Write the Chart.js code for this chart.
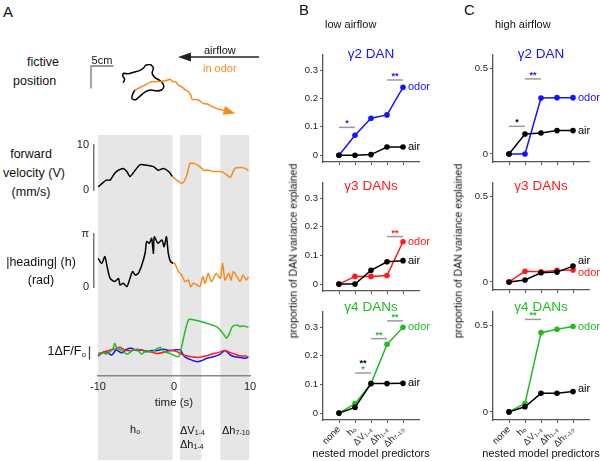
<!DOCTYPE html>
<html lang="en">
  <head>
    <meta charset="UTF-8" />
    <title>DAN activity and behaviour</title>
    <script src="https://cdn.jsdelivr.net/npm/chart.js"></script>
    <style>
      body { margin: 0; background: #fff; }
      #fig {
        position: relative; width: 600px; height: 461px; overflow: hidden;
        font-family: "Liberation Sans", Arial, sans-serif; color: #111;
      }
      #fig canvas { position: absolute; }
      .t { position: absolute; white-space: nowrap; line-height: 1; }
      .c { transform: translate(-50%, -50%); }
      .l { transform: translateY(-50%); }
      .r { transform: translate(-100%, -50%); }
      .big { font-size: 15px; }
      .lab { font-size: 12.5px; }
      .sm { font-size: 11px; }
      .ttl { font-size: 13.5px; }
      .yl { font-size: 10.5px; transform: translate(-50%, -50%) rotate(-90deg); }
      sub { font-size: 65%; vertical-align: -0.25em; }
    </style>
  </head>
  <body>
    <div id="fig">
      <canvas id="shade"></canvas>
      <canvas id="traj"></canvas>
      <canvas id="vel"></canvas>
      <canvas id="head"></canvas>
      <canvas id="dff"></canvas>
      <canvas id="lowG2"></canvas>
      <canvas id="lowG3"></canvas>
      <canvas id="lowG4"></canvas>
      <canvas id="highG2"></canvas>
      <canvas id="highG3"></canvas>
      <canvas id="highG4"></canvas>

      <!-- panel A labels -->
      <div class="t l big" style="left:3px; top:11px">A</div>
      <div class="t l lab" style="left:27px; top:62px">fictive</div>
      <div class="t l lab" style="left:13px; top:81px">position</div>
      <div class="t c sm" style="left:102px; top:60px">5cm</div>
      <div class="t l sm" style="left:204px; top:50px">airflow</div>
      <div class="t l sm" style="left:203px; top:68px; color:#f68b1f">in odor</div>
      <svg style="position:absolute; left:0; top:0" width="300" height="120">
        <line x1="188" y1="57" x2="259" y2="57" stroke="#222" stroke-width="1.5" />
        <polygon points="178,57 191,52.5 191,61.5" fill="#222" />
      </svg>
      <div class="t c lab" style="left:31px; top:154px">forward</div>
      <div class="t c lab" style="left:34px; top:173px">velocity (V)</div>
      <div class="t c lab" style="left:31px; top:192px">(mm/s)</div>
      <div class="t c lab" style="left:41px; top:262px">|heading| (h)</div>
      <div class="t c lab" style="left:41px; top:280px">(rad)</div>
      <div class="t r lab" style="left:86px; top:352px">1ΔF/F<sub>o</sub></div>
      <div class="t l sm" style="left:130px; top:430px">h<sub>o</sub></div>
      <div class="t l sm" style="left:180px; top:431px">ΔV<sub>1-4</sub></div>
      <div class="t l sm" style="left:180px; top:445px">Δh<sub>1-4</sub></div>
      <div class="t l sm" style="left:222px; top:431px">Δh<sub>7-10</sub></div>

      <!-- panel B labels -->
      <div class="t l big" style="left:299px; top:9px">B</div>
      <div class="t l sm" style="left:325px; top:24px">low airflow</div>
      <div class="t c ttl" style="left:371px; top:54px; color:#1414ff">γ2 DAN</div>
      <div class="t c ttl" style="left:371px; top:186px; color:#ff1a1a">γ3 DANs</div>
      <div class="t c ttl" style="left:371px; top:307px; color:#22bb22">γ4 DANs</div>
      <div class="t yl" style="left:293px; top:251px">proportion of DAN variance explained</div>
      <div class="t c sm" style="left:371px; top:453px">nested model predictors</div>

      <!-- panel C labels -->
      <div class="t l big" style="left:464px; top:9px">C</div>
      <div class="t l sm" style="left:495px; top:24px">high airflow</div>
      <div class="t c ttl" style="left:541px; top:54px; color:#1414ff">γ2 DAN</div>
      <div class="t c ttl" style="left:541px; top:186px; color:#ff1a1a">γ3 DANs</div>
      <div class="t c ttl" style="left:541px; top:307px; color:#22bb22">γ4 DANs</div>
      <div class="t yl" style="left:458px; top:251px">proportion of DAN variance explained</div>
      <div class="t c sm" style="left:541px; top:453px">nested model predictors</div>
    </div>

    <script>
      // ---- data ----
      // fictive position (cm), before odor and in odor
      const posAirX = [-2.6, -2.3, -2.7, -2.6, -1.5, -0.4, 1.0, 1.9, 2.4, 3.5, 4.1, 3.8, 4.5, 5.4, 6.1, 6.4, 5.9, 4.8, 3.5, 2.3, 1.3, 0.1, -0.7, -0.5, 0];
      const posAirY = [1.6, 2.4, 3.1, 3.7, 3.6, 3.9, 4.3, 4.9, 5.5, 5.6, 4.9, 3.7, 2.7, 2.2, 1.6, 0.7, 0, -0.2, 0, -0.4, -1.2, -2.2, -1.9, -0.9, 0];
      const posOdorX = [0, 1.1, 2.2, 3.3, 4.4, 5.9, 7.0, 7.8, 8.4, 9.1, 9.6, 10.4, 11.1, 11.9, 12.4, 12.7, 13.6, 14.4, 15.2, 16.1, 17.0, 18.1, 19.3, 20.4];
      const posOdorY = [0, 0.5, 1.1, 1.7, 1.9, 1.9, 2.1, 2.4, 1.9, 1.8, 1.1, 0.7, 0.1, -0.4, -1.1, -2.1, -2.1, -2.4, -3.0, -3.1, -3.6, -4.1, -4.4, -4.7];
      const scaleBarCm = 5;

      // forward velocity (mm/s)
      const velAirT = [-9.98, -8.9, -8.4, -7.8, -7.3, -6.7, -6.2, -5.8, -5.4, -4.5, -3.6, -2.7, -2.1, -1.4, -0.7, -0.2];
      const velAir = [0.7, 2.2, 2.2, 3.7, 4.4, 4.8, 4.1, 3.0, 3.7, 5.6, 5.5, 5.2, 4.4, 4.8, 4.1, 3.0];
      const velOdorT = [-0.2, 0.35, 1.1, 1.7, 2.1, 2.8, 3.4, 3.9, 4.5, 5.2, 6.1, 6.7, 7.4, 8.0, 8.7, 9.4, 9.8];
      const velOdor = [3.0, 2.2, 1.5, 3.3, 5.9, 5.8, 5.2, 4.4, 4.4, 4.1, 4.1, 3.7, 2.8, 4.8, 5.0, 4.8, 4.3];

      // |heading| (rad)
      const headAirT = [-9.98, -9.5, -9.1, -8.8, -8.4, -7.8, -7.3, -7.1, -6.7, -6.2, -5.8, -5.45, -5.1, -4.7, -4.3, -3.8, -3.6, -3.25, -2.95, -2.7, -2.6, -2.1, -1.6, -1.3, -1.0, -0.75, -0.45, -0.1];
      const headAir = [1.70, 1.40, 1.80, 1.21, 0.51, 0.32, 0.51, 0.12, 0.22, 0.02, 0.51, 0.91, 0.71, 0.81, 1.21, 2.0, 2.69, 2.59, 2.88, 2.0, 2.98, 2.59, 2.79, 2.39, 2.98, 2.0, 1.50, 1.40];
      const headOdorT = [-0.1, 0.1, 0.6, 1.0, 1.45, 1.9, 2.2, 2.55, 3.0, 3.4, 3.8, 4.1, 4.5, 4.9, 5.3, 5.6, 6.1, 6.4, 6.7, 7.2, 7.5, 7.8, 8.3, 8.7, 9.1, 9.5, 9.8];
      const headOdor = [1.40, 1.40, 0.91, 0.71, 0.32, 0.41, 0, 0.22, 0.12, 0.02, 0.61, 0.22, 0.81, 0.32, 0.61, 0.81, 0.51, 1.40, 0.41, 0.81, 0.41, 0.91, 0.61, 0.32, 0.71, 0.41, 0.61];

      // dF/F of the three DAN types
      const g4T = [-9.98, -9.3, -8.9, -8.4, -8.0, -7.8, -7.5, -7.1, -6.7, -6.2, -5.8, -5.4, -4.7, -4.3, -3.6, -2.9, -2.5, -1.8, -1.4, -0.7, -0.1, 0.6, 1.0, 1.5, 1.9, 2.1, 3.0, 3.6, 4.3, 5.0, 5.6, 6.1, 6.6, 6.9, 7.3, 7.7, 8.3, 8.7, 9.1, 9.8];
      const g4 = [-0.15, 0, -0.08, 0.1, 0.35, 0.73, 0.35, 0.28, 0.1, -0.08, 0.03, 0.23, 0.18, -0.08, 0.18, 0.1, 0.23, 0.43, 0.1, 0, -0.15, -0.28, 0.48, 1.73, 2.48, 2.53, 2.43, 2.35, 2.23, 2.1, 1.98, 1.73, 1.35, 1.1, 1.48, 1.98, 2.1, 1.98, 2.03, 1.93];
      const g3T = [-9.98, -9.3, -8.4, -7.8, -7.1, -6.5, -5.6, -4.9, -4.0, -3.2, -2.3, -1.4, -0.5, 0.4, 1.2, 2.3, 3.2, 4.1, 5.0, 5.8, 6.7, 7.4, 8.3, 8.9, 9.6];
      const g3 = [-0.03, 0.03, 0.23, 0.28, 0.43, 0.23, 0.18, 0.28, 0.18, 0.1, -0.03, 0.03, 0.18, 0.1, -0.15, -0.28, -0.33, -0.23, -0.08, 0.03, 0.18, 0.03, -0.15, -0.23, -0.23];
      const g2T = [-9.98, -9.5, -8.9, -8.2, -7.6, -6.9, -6.2, -5.6, -4.9, -4.3, -3.6, -2.9, -2.3, -1.4, -0.5, 0.1, 0.8, 1.4, 2.1, 3.0, 3.6, 4.3, 5.2, 6.1, 6.7, 7.4, 8.0, 8.7, 9.4, 9.8];
      const g2 = [-0.23, 0, 0.1, -0.15, 0.23, 0, 0.28, 0.35, 0.18, 0.23, 0.1, 0.18, 0.18, 0.28, 0.18, 0.23, 0.23, -0.28, -0.48, -0.65, -0.58, -0.4, -0.28, -0.08, 0.18, -0.15, -0.28, -0.33, -0.4, -0.28];
      const dffScaleBar = 1;

      // predictor windows (s) and time ticks
      const predictorWindows = [[-10, -0.2], [0.8, 3.6], [6.1, 9.9]];
      const timeTicks = [-10, 0, 10];
      const velTicks = [0, 10];
      const headTicks = [0, Math.PI];

      // nested models: proportion of DAN variance explained
      const predictors = ["none", "hₒ", "ΔV₁₋₄", "Δh₁₋₄", "Δh₇₋₁₀"];
      const lowTicks = [0, 0.1, 0.2, 0.3];
      const highTicks = [0, 0.5];
      const lowG2Odor = [0, 0.07, 0.13, 0.142, 0.239];
      const lowG2Air = [0, 0, 0.002, 0.029, 0.029];
      const lowG3Odor = [0, 0.027, 0.027, 0.03, 0.148];
      const lowG3Air = [0, 0, 0.048, 0.078, 0.082];
      const lowG4Odor = [0, 0.033, 0.103, 0.24, 0.30];
      const lowG4Air = [0, 0.02, 0.103, 0.103, 0.104];
      const highG2Odor = [0, 0, 0.328, 0.33, 0.33];
      const highG2Air = [0, 0.117, 0.123, 0.137, 0.137];
      const highG3Odor = [0, 0.063, 0.06, 0.068, 0.07];
      const highG3Air = [0, 0.012, 0.054, 0.058, 0.093];
      const highG4Odor = [0, 0.049, 0.46, 0.48, 0.496];
      const highG4Air = [0, 0.03, 0.108, 0.108, 0.118];

      // significance: [from, to, level, [[stars, series], ...]]
      const sigLowG2 = [[0, 1, 0.098, [["*", "odor"]]], [3, 4, 0.265, [["**", "odor"]]]];
      const sigLowG3 = [[3, 4, 0.166, [["**", "odor"]]]];
      const sigLowG4 = [[1, 2, 0.14, [["**", "air"], ["*", "odor"]]], [2, 3, 0.26, [["**", "odor"]]], [3, 4, 0.322, [["**", "odor"]]]];
      const sigHighG2 = [[0, 1, 0.162, [["*", "air"]]], [1, 2, 0.44, [["**", "odor"]]]];
      const sigHighG3 = [];
      const sigHighG4 = [[1, 2, 0.537, [["**", "odor"]]]];

      // ---- drawing ----
      const FONT = '"Liberation Sans", Arial, sans-serif';
      Chart.defaults.font.family = FONT;
      Chart.defaults.color = "#222";

      const BLUE = "#1414ff", RED = "#ff1a1a", GREEN = "#22bb22", ORANGE = "#f68b1f";

      const noPad = (s) => { s.paddingTop = s.paddingBottom = s.paddingLeft = s.paddingRight = 0; };
      const fixW = (w) => (s) => { s.width = w; noPad(s); };
      const fixH = (h) => (s) => { s.height = h; noPad(s); };

      // size and place a canvas so the chart area lands on the given page box
      function place(id, area, pad) {
        const c = document.getElementById(id);
        c.width = area.r - area.l + pad.l + pad.r;
        c.height = area.b - area.t + pad.t + pad.b;
        c.style.left = area.l - pad.l + "px";
        c.style.top = area.t - pad.t + "px";
        return c;
      }

      const common = {
        responsive: false, animation: false, devicePixelRatio: 1, events: [],
      };
      const noPlugins = { legend: { display: false }, tooltip: { enabled: false } };

      function trace(ts, vs, color) {
        return {
          data: ts.map((t, i) => ({ x: t, y: vs[i] })),
          borderColor: color, borderWidth: 1.5, pointRadius: 0,
          tension: 0.25, clip: false, fill: false,
        };
      }

      // shaded predictor windows + time axis
      const shadePlugin = {
        id: "shadePlugin",
        beforeDraw(chart) {
          const { ctx, chartArea, scales } = chart;
          ctx.save();
          ctx.fillStyle = "#e6e6e6";
          predictorWindows.forEach(([a, b]) => {
            const x0 = scales.x.getPixelForValue(a), x1 = scales.x.getPixelForValue(b);
            ctx.fillRect(x0, chartArea.top, x1 - x0, chart.height - chartArea.top - 1);
          });
          ctx.restore();
        },
      };
      new Chart(place("shade", { l: 98, r: 250, t: 135, b: 376 }, { l: 20, r: 20, t: 0, b: 85 }), {
        type: "scatter",
        data: { datasets: [] },
        options: {
          ...common,
          layout: { autoPadding: false, padding: { left: 20, right: 20, top: 0, bottom: 50 } },
          plugins: noPlugins,
          scales: {
            x: {
              type: "linear", min: -10, max: 10,
              afterBuildTicks: (s) => { s.ticks = timeTicks.map((v) => ({ value: v })); },
              afterFit: fixH(35),
              grid: { drawOnChartArea: false, drawTicks: false },
              border: { color: "#888", width: 1.5 },
              ticks: { padding: 4, font: { size: 11 }, color: "#222" },
              title: { display: true, text: "time (s)", font: { size: 11.5 }, color: "#222", padding: { top: 0, bottom: 1 } },
            },
            y: { display: false, min: 0, max: 1 },
          },
        },
        plugins: [shadePlugin],
      });

      // fictive trajectory with arrowhead and 5 cm scale bar
      const trajPlugin = {
        id: "trajPlugin",
        afterDatasetsDraw(chart) {
          const { ctx, scales: { x, y } } = chart;
          ctx.save();
          // arrowhead at the end of the odor path
          const n = posOdorX.length;
          const px = x.getPixelForValue(posOdorX[n - 1]), py = y.getPixelForValue(posOdorY[n - 1]);
          const qx = x.getPixelForValue(posOdorX[n - 3]), qy = y.getPixelForValue(posOdorY[n - 3]);
          const len = Math.hypot(px - qx, py - qy), ux = (px - qx) / len, uy = (py - qy) / len;
          ctx.fillStyle = ORANGE;
          ctx.beginPath();
          ctx.moveTo(px + ux * 9, py + uy * 9);
          ctx.lineTo(px - ux * 3 - uy * 4.5, py - uy * 3 + ux * 4.5);
          ctx.lineTo(px - ux * 3 + uy * 4.5, py - uy * 3 - ux * 4.5);
          ctx.closePath();
          ctx.fill();
          // scale bar
          const cx = -9.78, cy = 5.33;
          ctx.strokeStyle = "#777";
          ctx.lineWidth = 1.3;
          ctx.beginPath();
          ctx.moveTo(x.getPixelForValue(cx), y.getPixelForValue(cy - scaleBarCm));
          ctx.lineTo(x.getPixelForValue(cx), y.getPixelForValue(cy));
          ctx.lineTo(x.getPixelForValue(cx + scaleBarCm), y.getPixelForValue(cy));
          ctx.stroke();
          ctx.restore();
        },
      };
      new Chart(place("traj", { l: 85, r: 250, t: 55, b: 120 }, { l: 0, r: 0, t: 0, b: 0 }), {
        type: "line",
        data: {
          datasets: [
            { ...trace(posOdorX, posOdorY, ORANGE), tension: 0.2 },
            { ...trace(posAirX, posAirY, "#000"), tension: 0.2 },
          ],
        },
        options: {
          ...common,
          layout: { autoPadding: false, padding: 0 },
          plugins: noPlugins,
          scales: {
            x: { type: "linear", display: false, min: -11.11, max: 25.56 },
            y: { type: "linear", display: false, min: -6.67, max: 7.78 },
          },
        },
        plugins: [trajPlugin],
      });

      // behaviour traces share one time mapping (7.6 px per s)
      const traceX = { type: "linear", display: false, min: -10.526, max: 10 };
      function axisY(min, max, ticks, label) {
        return {
          type: "linear", min, max,
          afterBuildTicks: (s) => { s.ticks = ticks.map((v) => ({ value: v })); },
          afterFit: fixW(26),
          grid: { drawOnChartArea: false, drawTicks: false },
          border: { color: "#777", width: 1.5 },
          ticks: { padding: 5, font: { size: 11 }, color: "#222", callback: label },
        };
      }

      new Chart(place("vel", { l: 94, r: 250, t: 145, b: 190 }, { l: 26, r: 4, t: 8, b: 8 }), {
        type: "line",
        data: { datasets: [trace(velOdorT, velOdor, ORANGE), trace(velAirT, velAir, "#000")] },
        options: {
          ...common,
          layout: { autoPadding: false, padding: { left: 0, right: 4, top: 8, bottom: 8 } },
          plugins: noPlugins,
          scales: { x: traceX, y: axisY(0, 10, velTicks, (v) => String(v)) },
        },
      });

      new Chart(place("head", { l: 94, r: 250, t: 234, b: 287 }, { l: 26, r: 4, t: 8, b: 8 }), {
        type: "line",
        data: { datasets: [trace(headOdorT, headOdor, ORANGE), trace(headAirT, headAir, "#000")] },
        options: {
          ...common,
          layout: { autoPadding: false, padding: { left: 0, right: 4, top: 8, bottom: 8 } },
          plugins: noPlugins,
          scales: { x: traceX, y: axisY(0, Math.PI, headTicks, (v) => (v === 0 ? "0" : "π")) },
        },
      });

      const dffBarPlugin = {
        id: "dffBarPlugin",
        afterDraw(chart) {
          const { ctx, chartArea, scales: { y } } = chart;
          ctx.save();
          ctx.strokeStyle = "#444";
          ctx.lineWidth = 1.3;
          ctx.beginPath();
          ctx.moveTo(chartArea.left - 4.5, y.getPixelForValue(-dffScaleBar / 2));
          ctx.lineTo(chartArea.left - 4.5, y.getPixelForValue(dffScaleBar / 2));
          ctx.stroke();
          ctx.restore();
        },
      };
      new Chart(place("dff", { l: 94, r: 250, t: 313, b: 373 }, { l: 10, r: 4, t: 4, b: 4 }), {
        type: "line",
        data: { datasets: [trace(g4T, g4, GREEN), trace(g3T, g3, RED), trace(g2T, g2, BLUE)] },
        options: {
          ...common,
          layout: { autoPadding: false, padding: { left: 10, right: 4, top: 4, bottom: 4 } },
          plugins: noPlugins,
          scales: { x: traceX, y: { type: "linear", display: false, min: -1.5, max: 3 } },
        },
        plugins: [dffBarPlugin],
      });

      // series tags and significance bars for the nested-model charts
      const tagPlugin = {
        id: "tagPlugin",
        afterDatasetsDraw(chart, args, opts) {
          const { ctx, scales: { x, y } } = chart;
          const colorOf = {};
          ctx.save();
          ctx.font = "11px " + FONT;
          ctx.textAlign = "left";
          ctx.textBaseline = "middle";
          chart.data.datasets.forEach((ds) => {
            colorOf[ds.label] = ds.borderColor;
            const last = ds.data[ds.data.length - 1];
            ctx.fillStyle = ds.borderColor;
            ctx.fillText(ds.label, x.getPixelForValue(last.x) + 5,
              y.getPixelForValue(last.y) + ((opts.shift || {})[ds.label] || 0));
          });
          ctx.textAlign = "center";
          ctx.textBaseline = "alphabetic";
          ctx.font = "bold 9px " + FONT;
          (opts.sig || []).forEach(([a, b, level, marks]) => {
            const x0 = x.getPixelForValue(a), x1 = x.getPixelForValue(b), yy = y.getPixelForValue(level);
            ctx.strokeStyle = "#9a9a9a";
            ctx.lineWidth = 1.5;
            ctx.beginPath();
            ctx.moveTo(x0, yy);
            ctx.lineTo(x1, yy);
            ctx.stroke();
            marks.slice().reverse().forEach(([stars, series], k) => {
              ctx.fillStyle = colorOf[series];
              ctx.fillText(stars, (x0 + x1) / 2, yy + 5 - 6 * (k + 1));
            });
          });
          ctx.restore();
        },
      };

      function danChart(id, area, yMin, yMax, yTicks, odor, air, color, sig, shift, showX) {
        const xh = showX ? 48 : 8;
        const pad = { l: 30, r: 40, t: 6, b: xh };
        const pts = (arr) => arr.map((v, i) => ({ x: i, y: v }));
        const series = (label, arr, c) => ({
          label, data: pts(arr), borderColor: c, backgroundColor: c,
          borderWidth: 1.5, pointRadius: 2.8, pointBorderWidth: 0, clip: false,
        });
        return new Chart(place(id, area, pad), {
          type: "line",
          data: { datasets: [series("air", air, "#000"), series("odor", odor, color)] },
          options: {
            ...common,
            layout: { autoPadding: false, padding: { left: 0, right: pad.r, top: pad.t, bottom: 0 } },
            plugins: { ...noPlugins, tagPlugin: { sig, shift } },
            scales: {
              x: {
                type: "linear", min: -1, max: 5,
                afterBuildTicks: (s) => { s.ticks = predictors.map((p, i) => ({ value: i })); },
                afterFit: fixH(xh),
                grid: { drawOnChartArea: false, tickLength: 3, color: "#555", lineWidth: 1 },
                border: { color: "#555", width: 1.3 },
                ticks: {
                  display: showX, autoSkip: false, minRotation: 45, maxRotation: 45,
                  padding: 1, font: { size: 9.5 }, color: "#222",
                  callback: (v) => predictors[v],
                },
              },
              y: {
                type: "linear", min: yMin, max: yMax,
                afterBuildTicks: (s) => { s.ticks = yTicks.map((v) => ({ value: v })); },
                afterFit: fixW(30),
                grid: { drawOnChartArea: false, tickLength: 3, color: "#555", lineWidth: 1 },
                border: { color: "#555", width: 1.3 },
                ticks: { padding: 2, font: { size: 9.5 }, color: "#222", callback: (v) => String(v) },
              },
            },
          },
          plugins: [tagPlugin],
        });
      }

      const lowMin = -0.024, lowMax = 0.353, highMin = -0.047, highMax = 0.58;
      danChart("lowG2", { l: 323, r: 419, t: 55, b: 162 }, lowMin, lowMax, lowTicks, lowG2Odor, lowG2Air, BLUE, sigLowG2, {}, false);
      danChart("lowG3", { l: 323, r: 419, t: 183, b: 291 }, lowMin, lowMax, lowTicks, lowG3Odor, lowG3Air, RED, sigLowG3, {}, false);
      danChart("lowG4", { l: 323, r: 419, t: 312, b: 420 }, lowMin, lowMax, lowTicks, lowG4Odor, lowG4Air, GREEN, sigLowG4, {}, true);
      danChart("highG2", { l: 493, r: 589, t: 55, b: 162 }, highMin, highMax, highTicks, highG2Odor, highG2Air, BLUE, sigHighG2, {}, false);
      danChart("highG3", { l: 493, r: 589, t: 183, b: 290 }, highMin, highMax, highTicks, highG3Odor, highG3Air, RED, sigHighG3, { air: -5, odor: 3 }, false);
      danChart("highG4", { l: 493, r: 589, t: 312, b: 420 }, highMin, highMax, highTicks, highG4Odor, highG4Air, GREEN, sigHighG4, { air: -3 }, true);
    </script>
  </body>
</html>
